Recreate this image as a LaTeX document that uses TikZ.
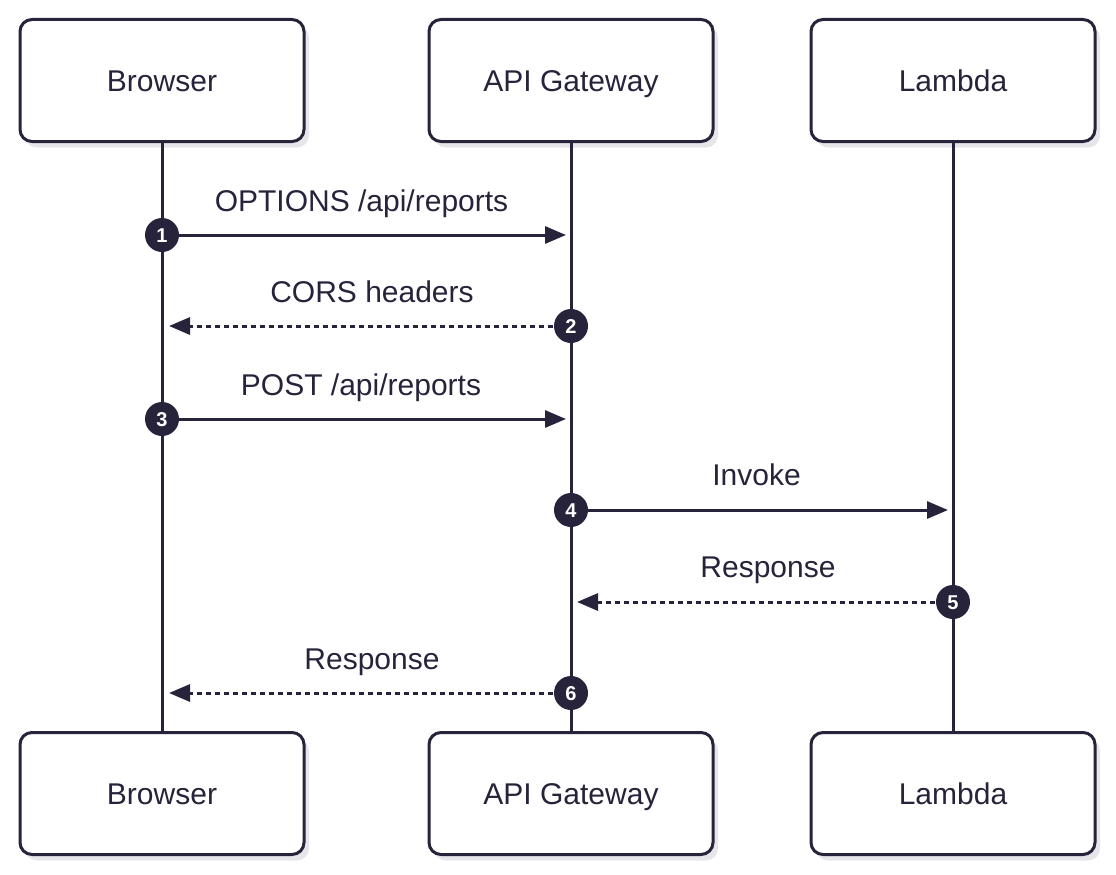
\documentclass[tikz,border=0pt]{standalone}
\usepackage{fontspec}
\setmainfont{Liberation Sans}
\usetikzlibrary{arrows.meta,shadows}
\definecolor{ink}{HTML}{26233A}
\definecolor{shade}{HTML}{E6E6EA}
\begin{document}
\begin{tikzpicture}[x=1pt,y=-1pt,
  actor/.style={draw=ink, line width=3pt, rounded corners=12pt, fill=white,
    minimum width=284pt, minimum height=122pt, inner sep=0pt,
    font=\fontsize{30}{36}\selectfont, text=ink, text height=21.5pt, text depth=0pt,
    drop shadow={shadow xshift=5pt, shadow yshift=-6pt, fill=shade, opacity=1}},
  life/.style={draw=ink, line width=3pt},
  num/.style={circle, fill=ink, text=white, minimum size=34pt, inner sep=0pt,
    font=\fontsize{20}{20}\selectfont\bfseries, text height=14.3pt, text depth=0pt},
  msg/.style={draw=ink, line width=3pt, -{Triangle[length=21pt,width=17pt]}},
  reply/.style={msg, dash pattern=on 5pt off 4pt},
  lbl/.style={text=ink, font=\fontsize{30}{36}\selectfont, inner sep=0pt,
    text height=21.5pt, text depth=0pt}]
\useasboundingbox (0,0) rectangle (1116,875);
% actors
\node[actor] (bt) at (162,80.5) {Browser};
\node[actor] (gt) at (571,80.5) {API Gateway};
\node[actor] (lt) at (953,80.5) {Lambda};
\node[actor] (bb) at (162,793.5) {Browser};
\node[actor] (gb) at (571,793.5) {API Gateway};
\node[actor] (lb) at (953,793.5) {Lambda};
% lifelines
\draw[life] (bt.south) -- (bb.north);
\draw[life] (gt.south) -- (gb.north);
\draw[life] (lt.south) -- (lb.north);
% arrow end points
\coordinate (e1) at (566,235);
\coordinate (e2) at (169,326);
\coordinate (e3) at (566,419);
\coordinate (e4) at (948,510);
\coordinate (e5) at (577,602);
\coordinate (e6) at (169,693);
% step marker positions
\coordinate (p1) at (162,235);
\coordinate (p2) at (571,326);
\coordinate (p3) at (162,419);
\coordinate (p4) at (571,510);
\coordinate (p5) at (953,602);
\coordinate (p6) at (571,693);
% messages
\draw[msg] (p1) -- (e1);
\draw[reply] (p2) -- (e2);
\draw[msg] (p3) -- (e3);
\draw[msg] (p4) -- (e4);
\draw[reply] (p5) -- (e5);
\draw[reply] (p6) -- (e6);
\node[num] (n1) at (p1) {1};
\node[num] (n2) at (p2) {2};
\node[num] (n3) at (p3) {3};
\node[num] (n4) at (p4) {4};
\node[num] (n5) at (p5) {5};
\node[num] (n6) at (p6) {6};
% labels
\node[lbl] (l1) at (361.5,200.5) {OPTIONS /api/reports};
\node[lbl] (l2) at (372,291.5) {CORS headers};
\node[lbl] (l3) at (361,384.5) {POST /api/reports};
\node[lbl] (l4) at (756.5,475) {Invoke};
\node[lbl] (l5) at (768,567) {Response};
\node[lbl] (l6) at (372,658.5) {Response};
\end{tikzpicture}
\end{document}
